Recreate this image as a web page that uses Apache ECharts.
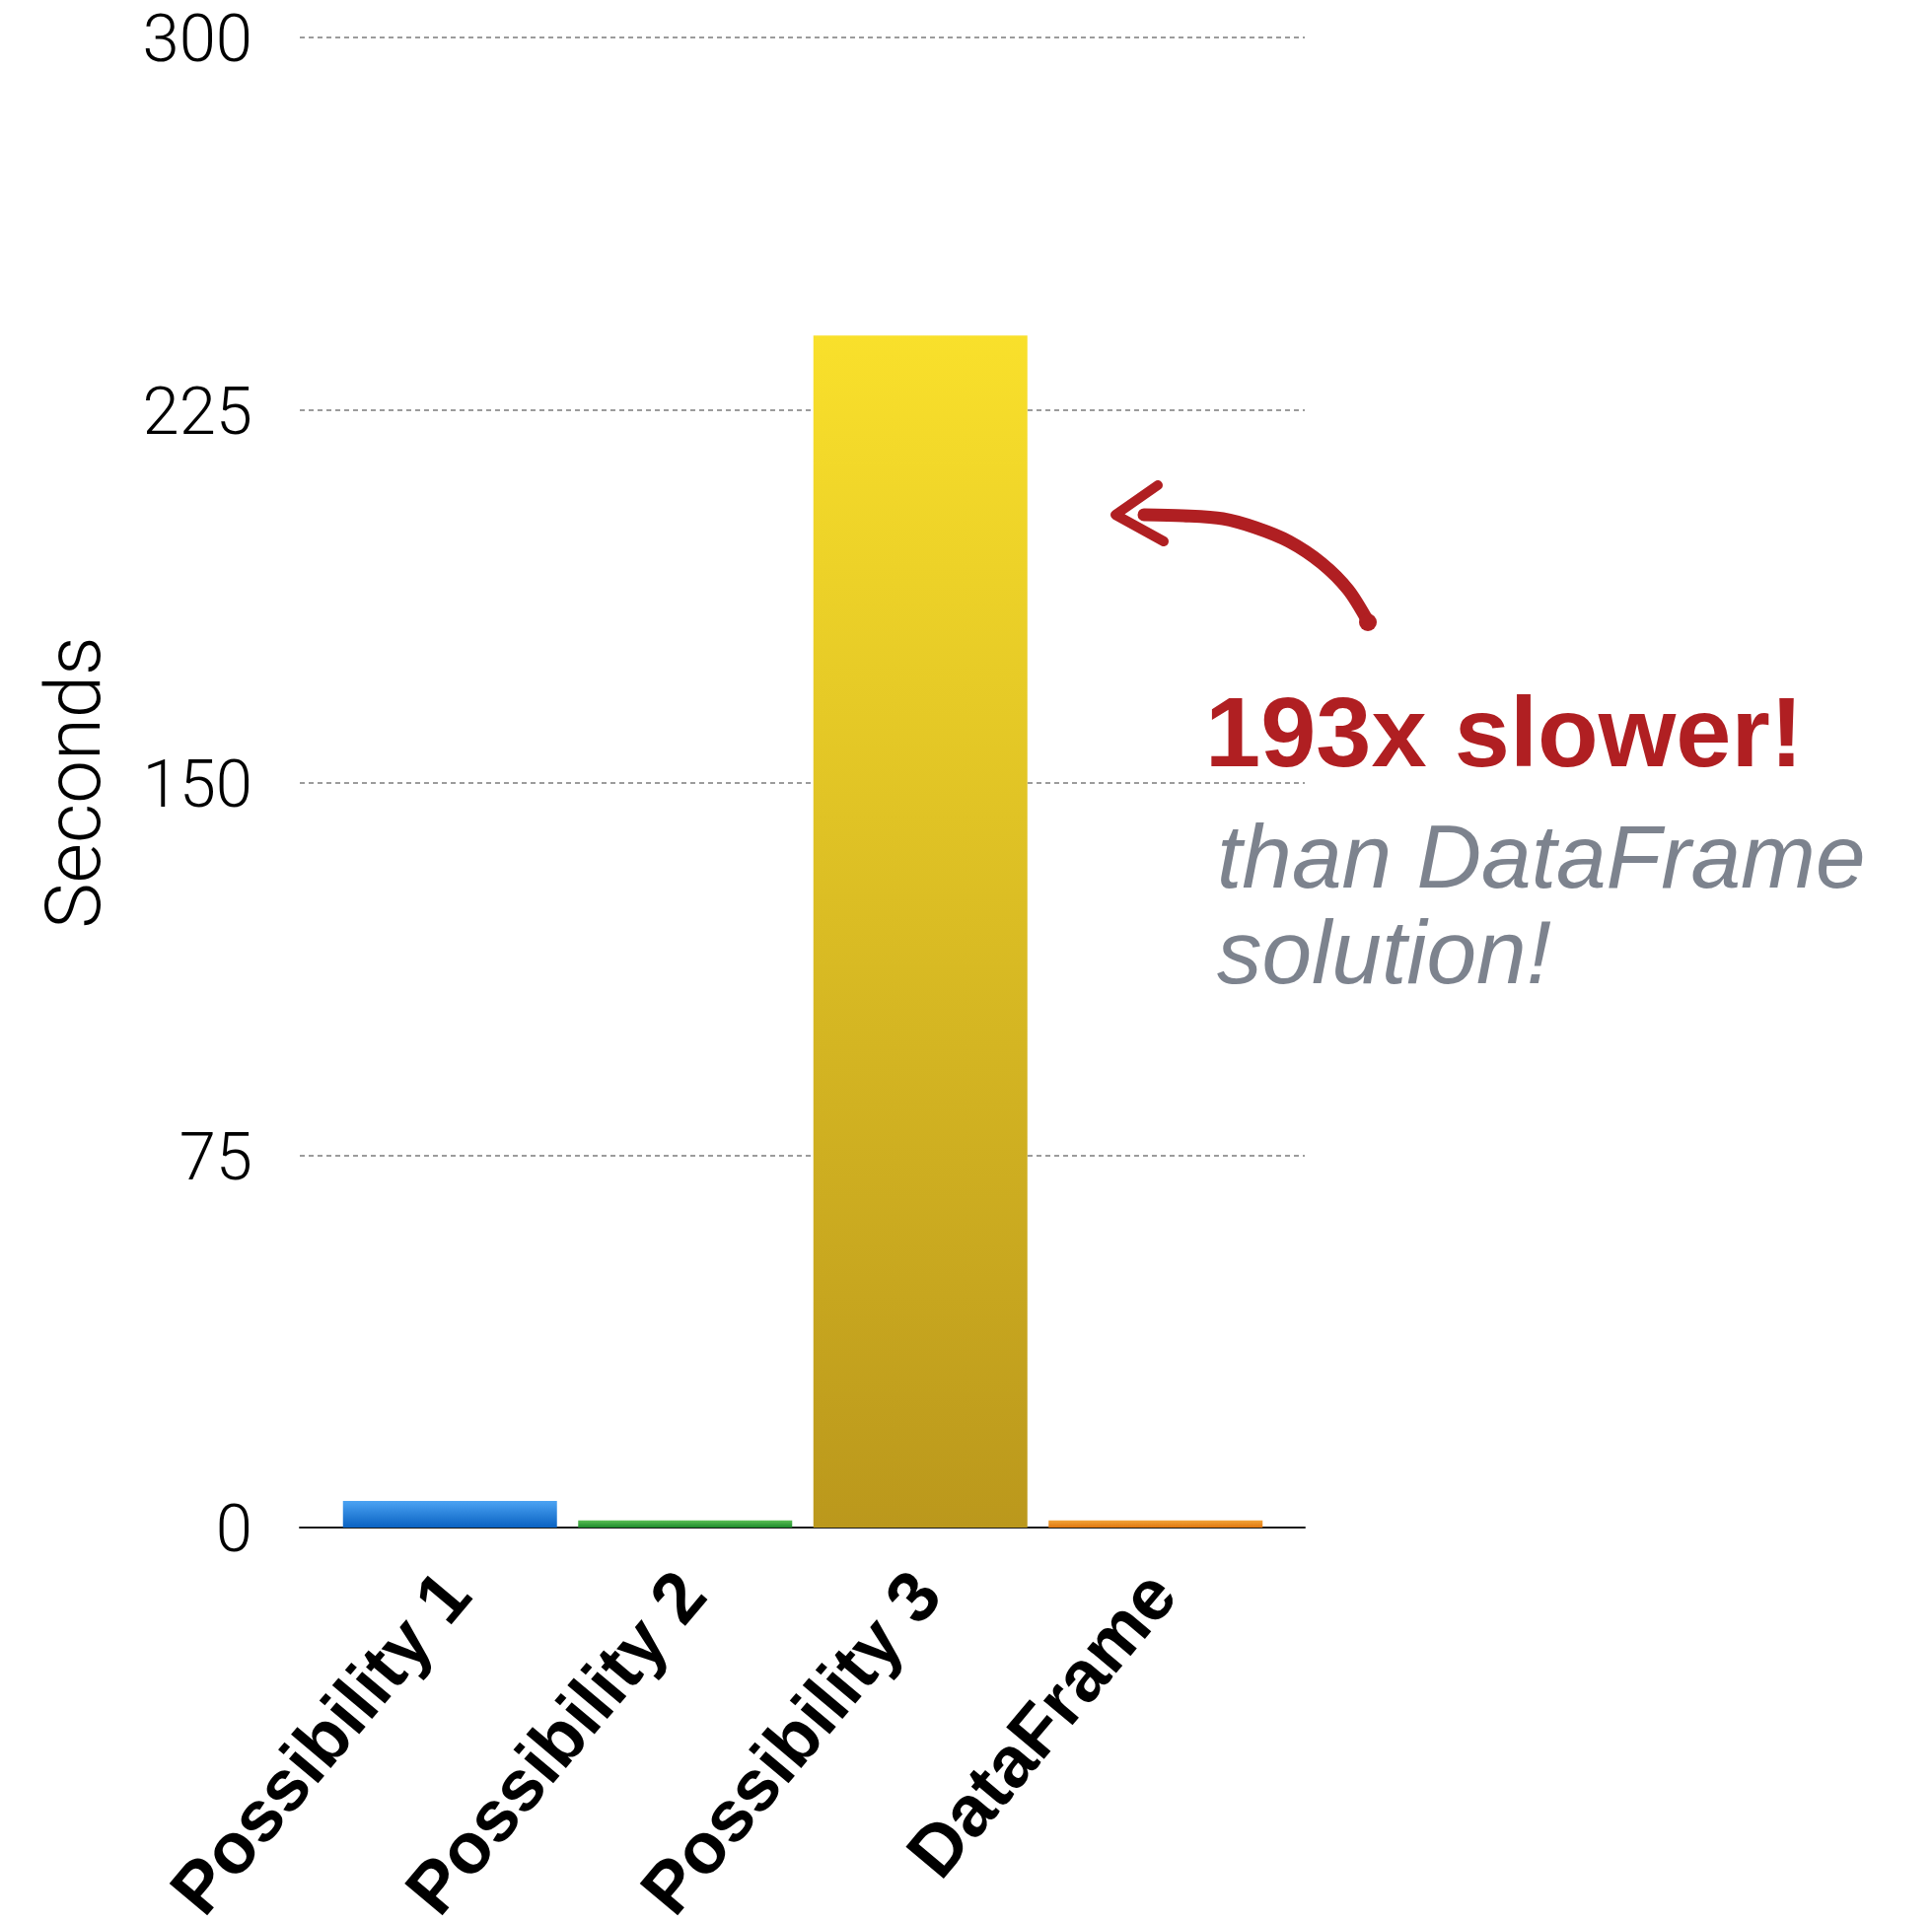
<!DOCTYPE html>
<html>
<head>
<meta charset="utf-8">
<script src="https://cdn.jsdelivr.net/npm/echarts@6/dist/echarts.min.js"></script>
<style>
    html, body { margin: 0; padding: 0; background: #fff; }
    #chart { width: 1959px; height: 1949px; }
</style>
</head>
<body>
<div id="chart"></div>
<script>
    // data
    var categories = ['Possibility 1', 'Possibility 2', 'Possibility 3', 'DataFrame'];
    var seconds = [5.35, 1.45, 240, 1.45];
    var yTicks = [0, 75, 150, 225, 300];

    var barColors = [
        ['#4ba3f3', '#0a62c2'],
        ['#5bbf55', '#1d8a2c'],
        ['#f9e02b', '#bb981c'],
        ['#f2a43a', '#e0770f']
    ];

    var chart = echarts.init(document.getElementById('chart'));

    var gradient = function (pair) {
        return new echarts.graphic.LinearGradient(0, 0, 0, 1, [
            { offset: 0, color: pair[0] },
            { offset: 1, color: pair[1] }
        ]);
    };

    var barData = seconds.map(function (v, i) {
        return { value: v, itemStyle: { color: gradient(barColors[i]) } };
    });

    var red = '#b01f22';
    var grey = '#7d838e';

    chart.setOption({
        animation: false,
        backgroundColor: '#fff',
        grid: [
            // bars
            { left: 337, top: 38, width: 954, height: 1511, containLabel: false, outerBoundsMode: 'none' },
            // gridlines, y labels and the wider baseline
            { left: 304, top: 38, width: 1019, height: 1511, containLabel: false, outerBoundsMode: 'none' }
        ],
        xAxis: [
            {
                type: 'category',
                gridIndex: 0,
                data: categories,
                axisLine: { show: false },
                axisTick: { show: false },
                axisLabel: {
                    interval: 0,
                    rotate: 50,
                    margin: 50,
                    formatter: '{c|{value}}',
                    rich: {
                        c: {
                            fontSize: 73,
                            fontWeight: 'bold',
                            fontFamily: 'Liberation Sans',
                            color: '#000',
                            padding: [24, 0, 0, 0]
                        }
                    }
                }
            },
            {
                type: 'value',
                gridIndex: 1,
                min: 0,
                max: 1,
                axisLine: { show: true, onZero: false, lineStyle: { color: '#1a1a1a', width: 2 } },
                axisTick: { show: false },
                axisLabel: { show: false },
                splitLine: { show: false }
            }
        ],
        yAxis: [
            {
                type: 'value',
                gridIndex: 0,
                min: 0,
                max: 300,
                interval: 75,
                show: false,
                splitLine: { show: false }
            },
            {
                type: 'value',
                gridIndex: 1,
                min: yTicks[0],
                max: yTicks[yTicks.length - 1],
                interval: 75,
                name: 'Seconds',
                nameLocation: 'middle',
                nameGap: 184,
                nameTextStyle: {
                    fontSize: 78,
                    fontFamily: 'Roboto',
                    fontWeight: 300,
                    color: '#000'
                },
                axisLine: { show: false },
                axisTick: { show: false },
                axisLabel: {
                    margin: 48,
                    formatter: '{v|{value}}',
                    rich: {
                        v: {
                            fontSize: 67,
                            fontFamily: 'Roboto',
                            fontWeight: 300,
                            color: '#000',
                            padding: [15, 0, 0, 0]
                        }
                    }
                },
                splitLine: {
                    show: true,
                    lineStyle: { color: '#9c9c9c', width: 2, type: [5, 4] }
                }
            }
        ],
        series: [
            {
                type: 'bar',
                xAxisIndex: 0,
                yAxisIndex: 0,
                data: barData,
                barWidth: 217,
                z: 3
            }
        ],
        graphic: [
            {
                type: 'text',
                left: 1222,
                top: 699,
                style: {
                    text: '193x slower!',
                    fontSize: 101,
                    fontWeight: 'bold',
                    fontFamily: 'Liberation Sans',
                    fill: red
                }
            },
            {
                type: 'text',
                left: 1234,
                top: 826,
                style: {
                    text: 'than DataFrame\nsolution!',
                    fontSize: 91,
                    lineHeight: 97,
                    fontStyle: 'italic',
                    fontFamily: 'Liberation Sans',
                    fill: grey
                }
            },
            {
                // hand drawn arrow shaft
                type: 'polyline',
                shape: {
                    points: [[1160, 522], [1200, 523], [1240, 526], [1273, 535], [1307, 549], [1340, 571], [1367, 598], [1387, 630]],
                    smooth: 0.3
                },
                style: { stroke: red, lineWidth: 13, lineCap: 'round', lineJoin: 'round', fill: null }
            },
            {
                // arrow head
                type: 'polyline',
                shape: {
                    points: [[1174, 492], [1131, 522], [1180, 549]]
                },
                style: { stroke: red, lineWidth: 10, lineCap: 'round', lineJoin: 'round', fill: null }
            },
            {
                type: 'circle',
                shape: { cx: 1387, cy: 631, r: 9 },
                style: { fill: red }
            }
        ]
    });
</script>
</body>
</html>
